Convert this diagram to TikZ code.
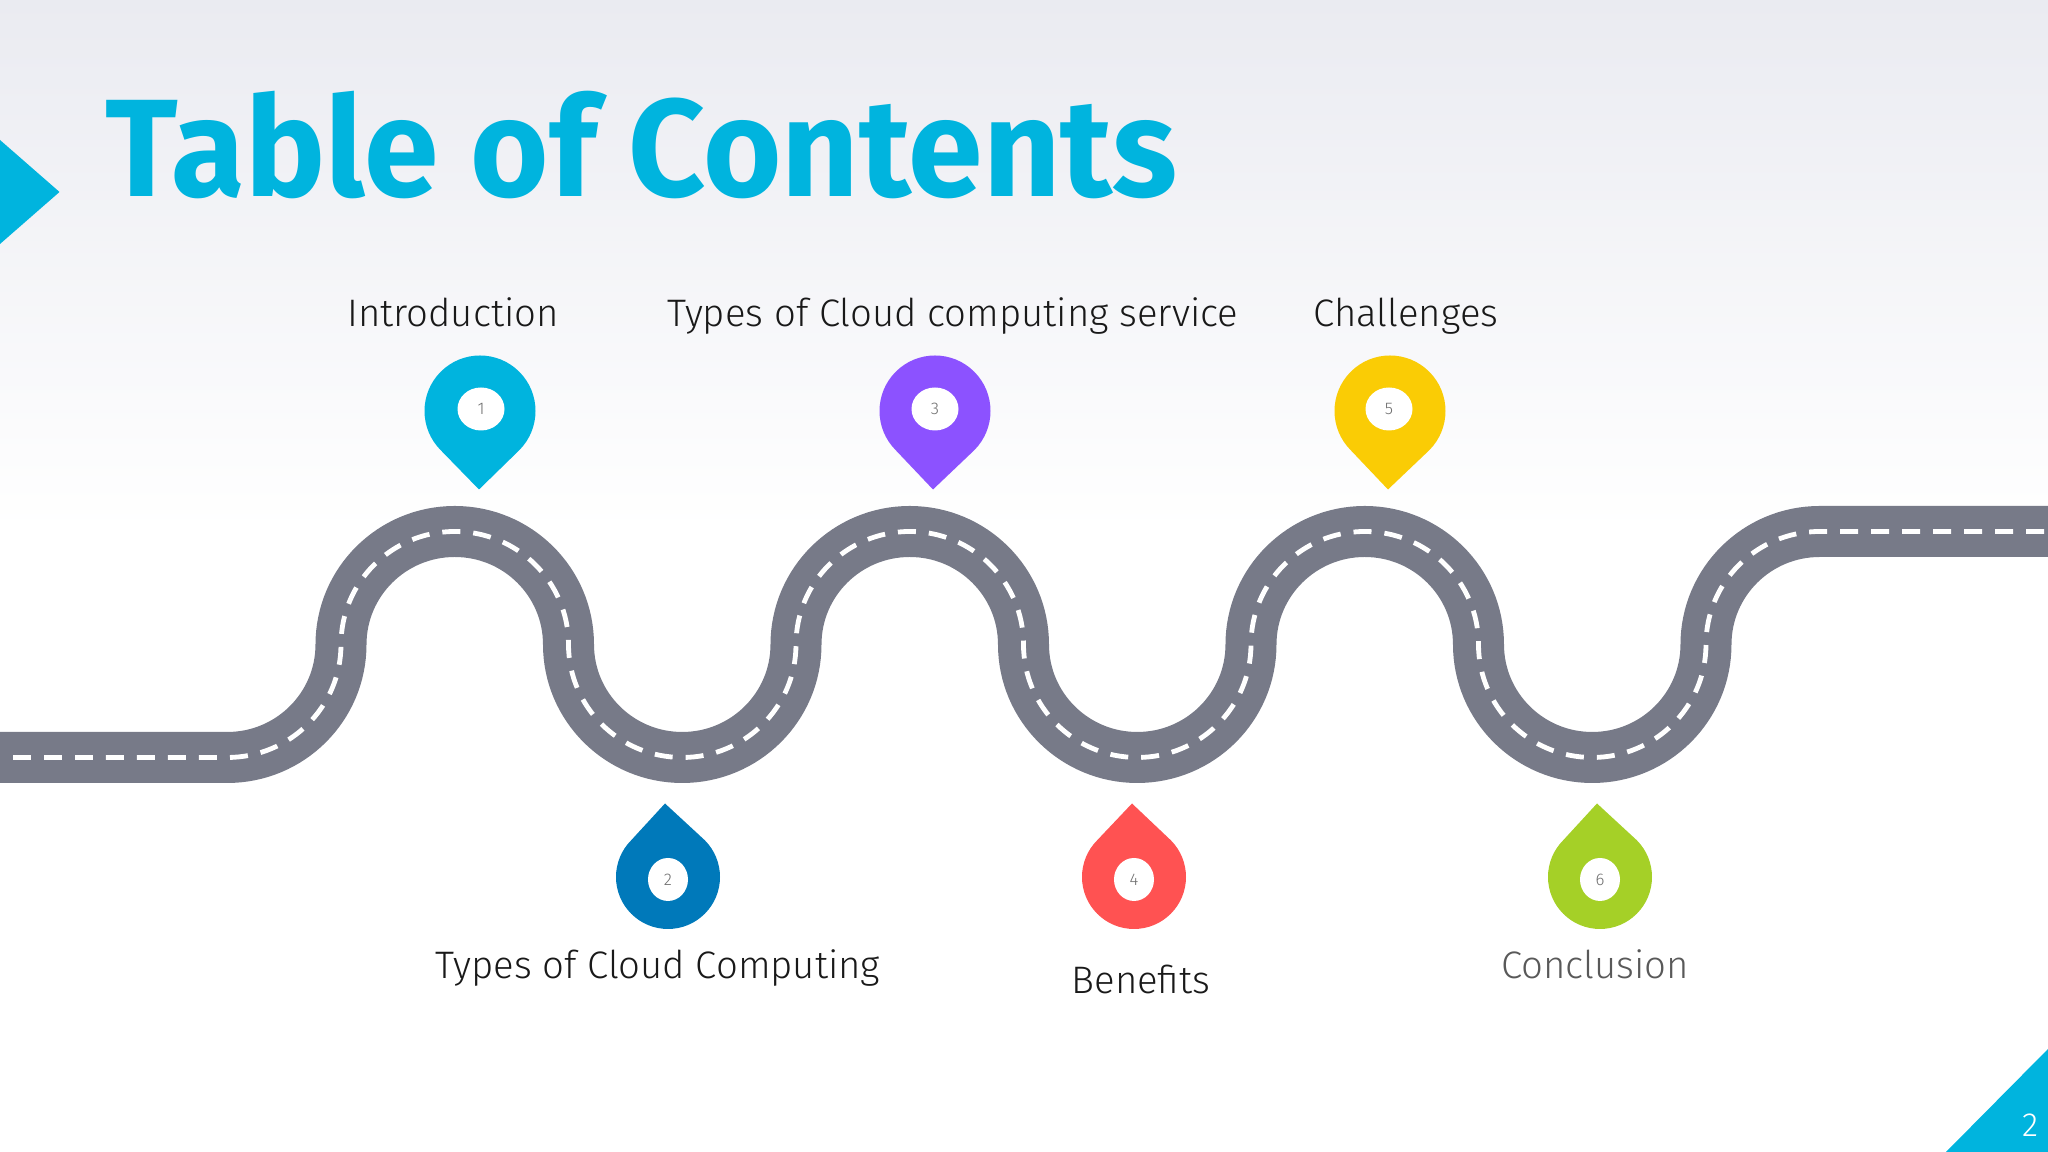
\documentclass[tikz,border=0pt]{standalone}
\usepackage{fontspec}
\setmainfont{Fira Sans Light}
\newfontfamily\titlefont[FakeStretch=.968]{Fira Sans Bold}
\usepackage{xcolor}
\usetikzlibrary{shapes.geometric}
\definecolor{skyblue}{HTML}{00B4DE}
\definecolor{deepblue}{HTML}{0079BA}
\definecolor{violet}{HTML}{8C52FF}
\definecolor{coral}{HTML}{FF5252}
\definecolor{sun}{HTML}{FACC05}
\definecolor{lime}{HTML}{A5D027}
\definecolor{asphalt}{HTML}{777A88}
\definecolor{inkgrey}{HTML}{6E6E6E}
\definecolor{skytop}{HTML}{EAEBF1}
\definecolor{skymid}{HTML}{F3F3FB}
\tikzset{
	roadarc/.style={x radius=1.1375,y radius=1.13},
	roadbed/.style={draw=asphalt,line width=.51cm},
	roadline/.style={draw=white,line width=.048cm,dash pattern=on .18cm off .13cm,dash phase=.18cm},
	pinhole/.style 2 args={ellipse,fill=white,inner sep=0pt,minimum width=#1,minimum height=#2,text=inkgrey,font=\fontsize{4.8}{5}\selectfont},
	toclabel/.style={anchor=base,font=\fontsize{10.9}{12}\selectfont,text=black!90}
}
\newcommand{\roadpath}{(0,3.945) -- (2.2725,3.945) arc[start angle=-90,end angle=0,roadarc]
	arc[start angle=180,end angle=0,roadarc] arc[start angle=180,end angle=360,roadarc]
	arc[start angle=180,end angle=0,roadarc] arc[start angle=180,end angle=360,roadarc]
	arc[start angle=180,end angle=0,roadarc] arc[start angle=180,end angle=360,roadarc]
	arc[start angle=180,end angle=90,roadarc] -- (20.48,6.205)}
\begin{document}
\begin{tikzpicture}
	\useasboundingbox (0,0) rectangle (20.48,11.52);
	% background
	\shade[top color=skytop,middle color=skymid,bottom color=white] (0,6.2) rectangle (20.48,11.52);
	% corner triangles
	\fill[skyblue] (0,10.12) -- (.595,9.6) -- (0,9.08) -- cycle;
	\fill[skyblue] (20.48,1.03) -- (20.48,0) -- (19.46,0) -- cycle;
	\node[anchor=base,text=white,font=\fontsize{9.5}{11}\selectfont] (pagenum) at (20.30,.15) {2};
	% title
	\node[anchor=base west,inner sep=0pt,text=skyblue,font=\fontsize{39.5}{44}\titlefont] (title) at (1.05,9.55) {Table of Contents};
	% road
	\draw[roadbed] \roadpath;
	\draw[roadline] \roadpath;
	% pins above the road
	\fill[skyblue] (4.80,7.41) +(225:.555) arc[start angle=225,end angle=-45,radius=.555] -- (4.79,6.625) -- cycle;
	\fill[violet] (9.35,7.41) +(225:.555) arc[start angle=225,end angle=-45,radius=.555] -- (9.33,6.625) -- cycle;
	\fill[sun] (13.90,7.41) +(225:.555) arc[start angle=225,end angle=-45,radius=.555] -- (13.88,6.625) -- cycle;
	\node[pinhole={.47cm}{.43cm}] (hole1) at (4.81,7.43) {1};
	\node[pinhole={.47cm}{.43cm}] (hole3) at (9.35,7.43) {3};
	\node[pinhole={.47cm}{.43cm}] (hole5) at (13.89,7.43) {5};
	% pins below the road
	\fill[deepblue] (6.68,2.75) +(135:.52) arc[start angle=135,end angle=405,radius=.52] -- (6.65,3.485) -- cycle;
	\fill[coral] (11.34,2.75) +(135:.52) arc[start angle=135,end angle=405,radius=.52] -- (11.32,3.485) -- cycle;
	\fill[lime] (16.00,2.75) +(135:.52) arc[start angle=135,end angle=405,radius=.52] -- (15.97,3.485) -- cycle;
	\node[pinhole={.40cm}{.43cm}] (hole2) at (6.68,2.725) {2};
	\node[pinhole={.40cm}{.43cm}] (hole4) at (11.34,2.725) {4};
	\node[pinhole={.40cm}{.43cm}] (hole6) at (16.00,2.725) {6};
	% labels
	\node[toclabel] (intro) at (4.53,8.25) {Introduction};
	\node[toclabel] (service) at (9.53,8.25) {Types of Cloud computing service};
	\node[toclabel] (challenges) at (14.06,8.25) {Challenges};
	\node[toclabel] (types) at (6.58,1.73) {Types of Cloud Computing};
	\node[toclabel] (benefits) at (11.41,1.58) {Benefits};
	\node[toclabel,text=black!65] (conclusion) at (15.95,1.73) {Conclusion};
\end{tikzpicture}
\end{document}
